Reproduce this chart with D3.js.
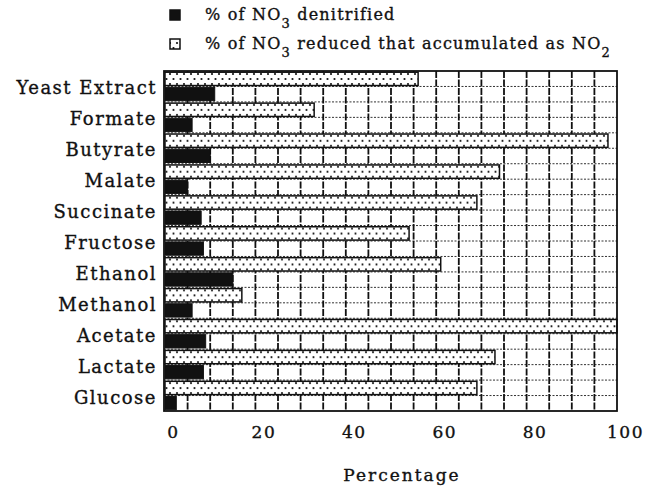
<!DOCTYPE html>
<html>
<head>
<meta charset="utf-8">
<script src="https://cdn.jsdelivr.net/npm/d3@7"></script>
<style>
  body { margin: 0; background: #fff; }
  text { font-family: "DejaVu Serif", serif; fill: #111; stroke: #111; stroke-width: 0.35px; }
</style>
</head>
<body>
<svg id="chart" width="646" height="489"></svg>
<script>
// values
var categories = ['Yeast Extract', 'Formate', 'Butyrate', 'Malate', 'Succinate',
                  'Fructose', 'Ethanol', 'Methanol', 'Acetate', 'Lactate', 'Glucose'];
var denitrified = [11, 6, 10, 5, 8, 8.5, 15, 6, 9, 8.5, 2.5];
var nitriteAccum = [56, 33, 98, 74, 69, 54, 61, 17, 100, 73, 69];
var seriesNames = ['nitrite', 'denitrified'];
var xTicks = [0, 20, 40, 60, 80, 100];

var svg = d3.select('#chart');
var plot = { left: 164, right: 617, top: 71, bottom: 411 };

var x = d3.scaleLinear().domain([0, 100]).range([165, plot.right]);
var y = d3.scaleBand().domain(categories).range([plot.top, plot.bottom]);
var sub = d3.scaleBand().domain(seriesNames).range([0, y.bandwidth()])
  .paddingInner(0.12).paddingOuter(0.08);

// stipple pattern for the NO2 bars
var pat = svg.append('defs').append('pattern')
  .attr('id', 'stipple')
  .attr('patternUnits', 'userSpaceOnUse')
  .attr('width', 7).attr('height', 10);
pat.append('rect').attr('width', 7).attr('height', 10).attr('fill', '#fff');
pat.append('circle').attr('cx', 2).attr('cy', 3).attr('r', 1.1).attr('fill', '#111');
pat.append('circle').attr('cx', 5.5).attr('cy', 8).attr('r', 1.1).attr('fill', '#111');

// grid
var grid = svg.append('g');
grid.append('rect')
  .attr('x', plot.left).attr('y', plot.top)
  .attr('width', plot.right - plot.left).attr('height', plot.bottom - plot.top)
  .attr('fill', '#fff');

var hLines = d3.range(1, categories.length * 2).map(function(i) {
  return plot.top + i * y.bandwidth() / 2;
});
grid.selectAll('.h').data(hLines).enter().append('line')
  .attr('x1', plot.left).attr('x2', plot.right)
  .attr('y1', function(d) { return d; }).attr('y2', function(d) { return d; })
  .attr('stroke', '#333').attr('stroke-width', 1)
  .attr('stroke-dasharray', '2,1.5');

grid.selectAll('.v').data(d3.range(5, 100, 5)).enter().append('line')
  .attr('x1', function(d) { return x(d); }).attr('x2', function(d) { return x(d); })
  .attr('y1', plot.top).attr('y2', plot.bottom)
  .attr('stroke', '#111').attr('stroke-width', 1.8)
  .attr('stroke-dasharray', '7,1.5');

// bars
var rows = svg.selectAll('.row').data(categories).enter().append('g')
  .attr('transform', function(d) { return 'translate(0,' + y(d) + ')'; });

rows.append('rect')
  .attr('x', x(0))
  .attr('y', sub('nitrite'))
  .attr('width', function(d, i) { return x(nitriteAccum[i]) - x(0); })
  .attr('height', sub.bandwidth())
  .attr('fill', 'url(#stipple)')
  .attr('stroke', '#111').attr('stroke-width', 1.5);

rows.append('rect')
  .attr('x', x(0))
  .attr('y', sub('denitrified'))
  .attr('width', function(d, i) { return x(denitrified[i]) - x(0); })
  .attr('height', sub.bandwidth())
  .attr('fill', '#111')
  .attr('stroke', '#111').attr('stroke-width', 1);

// border
svg.append('rect')
  .attr('x', plot.left).attr('y', plot.top)
  .attr('width', plot.right - plot.left).attr('height', plot.bottom - plot.top)
  .attr('fill', 'none').attr('stroke', '#111').attr('stroke-width', 1.8);

// category labels
rows.append('text')
  .attr('x', 157)
  .attr('y', y.bandwidth() / 2 + 8)
  .attr('text-anchor', 'end')
  .style('font-size', '18px')
  .style('letter-spacing', '1.5px')
  .text(function(d) { return d; });

// x axis
var xAxis = svg.append('g')
  .attr('transform', 'translate(0,' + plot.bottom + ')')
  .call(d3.axisBottom(x).tickValues(xTicks).tickSize(0).tickPadding(15));
xAxis.select('.domain').remove();
xAxis.selectAll('text')
  .attr('dx', 8)
  .style('font-family', '"DejaVu Serif", serif')
  .style('font-size', '17px')
  .style('letter-spacing', '1.5px')
  .style('fill', '#111');

svg.append('text')
  .attr('x', 402).attr('y', 481)
  .attr('text-anchor', 'middle')
  .style('font-size', '17px')
  .style('letter-spacing', '2px')
  .text('Percentage');

// legend
var legend = svg.append('g');
function legendRow(yPos, fill, parts) {
  legend.append('rect')
    .attr('x', 170).attr('y', yPos - 10)
    .attr('width', 10).attr('height', 10)
    .attr('fill', fill).attr('stroke', '#111').attr('stroke-width', 1.5);
  var t = legend.append('text').attr('x', 205).attr('y', yPos)
    .style('font-size', '16px')
    .style('letter-spacing', '1.2px');
  t.append('tspan').text(parts[0]);
  t.append('tspan').attr('dy', 8).style('font-size', '13px').text(parts[1]);
  t.append('tspan').attr('dy', -8).text(parts[2]);
  if (parts.length > 3) {
    t.append('tspan').attr('dy', 8).style('font-size', '13px').text(parts[3]);
  }
}
legendRow(20, '#111', ['% of NO', '3', ' denitrified']);
legendRow(49, 'url(#stipple)', ['% of NO', '3', ' reduced that accumulated as NO', '2']);
</script>
</body>
</html>
